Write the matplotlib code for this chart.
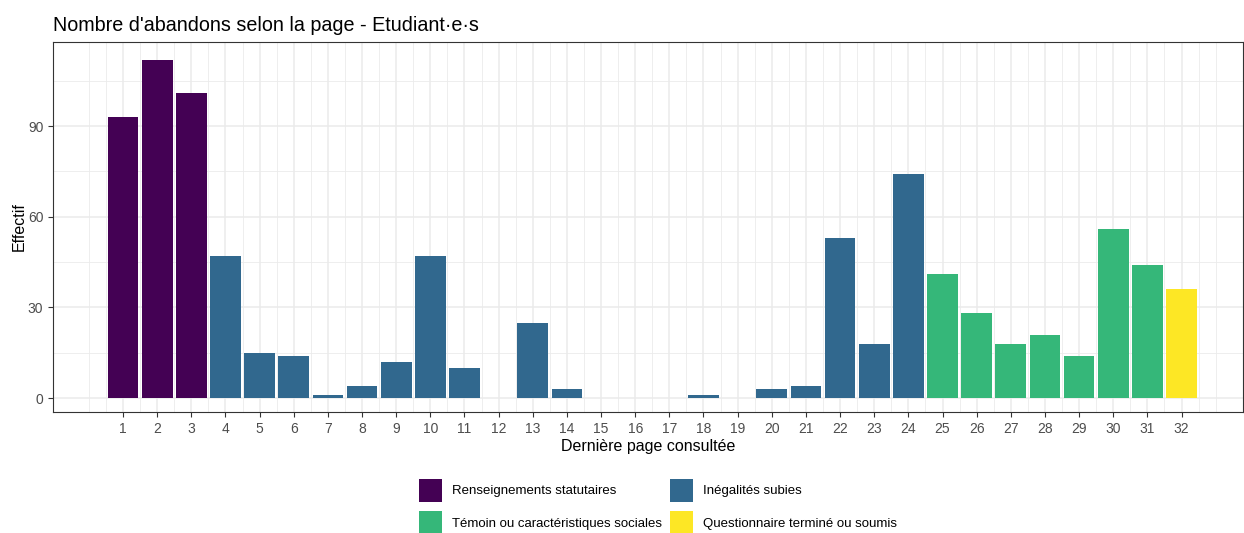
import numpy as np
import matplotlib.pyplot as plt
from matplotlib.patches import Patch

pages = np.arange(1, 33)
effectif = [93, 112, 101, 47, 15, 14, 1, 4, 12, 47, 10, 0, 25, 3, 0, 0,
            0, 1, 0, 3, 4, 53, 18, 74, 41, 28, 18, 21, 14, 56, 44, 36]
groupe = ([0] * 3 + [1] * 21 + [2] * 7 + [3])            # section of the questionnaire per page
categories = ["Renseignements statutaires", "Inégalités subies",
              "Témoin ou caractéristiques sociales", "Questionnaire terminé ou soumis"]
couleurs = ["#440154", "#31688E", "#35B779", "#FDE725"]

plt.rcParams['font.family'] = ['Liberation Sans', 'DejaVu Sans']

fig = plt.figure(figsize=(12.44, 5.33), dpi=100)
ax = fig.add_axes([53 / 1244, 1 - 412 / 533, 1190 / 1244, 370 / 533])

ax.bar(pages, effectif, width=0.9, color=[couleurs[g] for g in groupe], zorder=2)

ax.set_xlim(-1.05, 33.8)
ax.set_ylim(-4.6, 117.8)

# grid like theme_bw
for x in np.arange(0, 33.5, 0.5):
    major = (x == int(x)) and 1 <= x <= 32
    ax.axvline(x, color="#ebebeb", lw=1.1 if major else 0.6, zorder=0)
for y in [0, 30, 60, 90]:
    ax.axhline(y, color="#ebebeb", lw=1.1, zorder=0)
for y in [15, 45, 75, 105]:
    ax.axhline(y, color="#ebebeb", lw=0.6, zorder=0)

ax.set_xticks(pages)
ax.set_yticks([0, 30, 60, 90])
ax.tick_params(axis="both", colors="#333333", labelcolor="#4d4d4d", labelsize=10,
               length=3.5, width=0.8)
for s in ax.spines.values():
    s.set_color("#333333")
    s.set_linewidth(0.8)

ax.set_xlabel("Dernière page consultée", fontsize=11.5, labelpad=2)
ax.set_ylabel("Effectif", fontsize=11.5, labelpad=0.5)
ax.set_title("Nombre d'abandons selon la page - Etudiant·e·s", fontsize=14.2,
             loc="left", pad=8)

ordre = [0, 2, 1, 3]
handles = [Patch(facecolor=couleurs[i]) for i in ordre]
labels = [categories[i] for i in ordre]
fig.legend(handles, labels, ncol=2, loc="center", bbox_to_anchor=(0.529, 0.05),
           frameon=False, fontsize=9.5, handlelength=1.75, handleheight=2.3,
           handletextpad=0.75, labelspacing=0.7, columnspacing=0.6)

fig.savefig("out.png", dpi=100)
